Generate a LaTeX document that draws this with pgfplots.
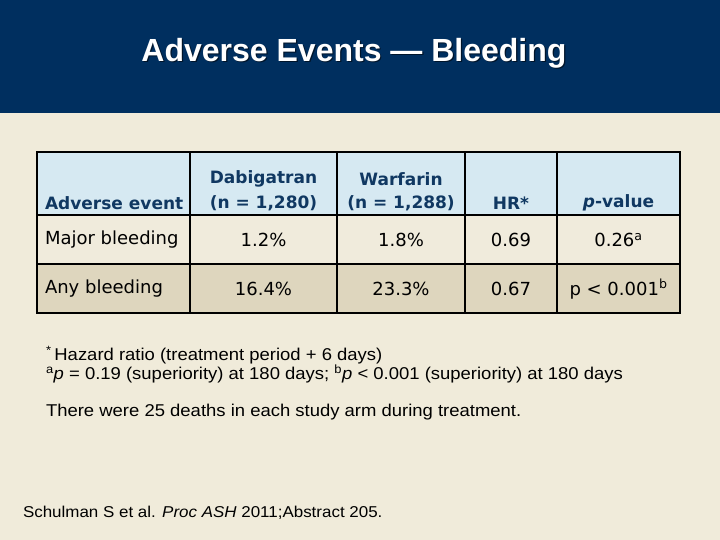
\documentclass[border=0pt]{standalone}
\usepackage{pgfplots}
\pgfplotsset{compat=1.18}
\usepackage{fontspec}
\setmainfont{DejaVu Sans}
\newfontfamily\tah[FakeStretch=1.08]{Liberation Sans}
\newfontfamily\tahb{Liberation Sans}
\definecolor{navy}{RGB}{0,47,95}
\definecolor{bg}{RGB}{240,235,218}
\definecolor{hdr}{RGB}{214,233,242}
\definecolor{rowa}{RGB}{240,235,220}
\definecolor{rowb}{RGB}{222,214,190}
\definecolor{htext}{RGB}{16,56,98}
\newcommand{\fs}[1]{\fontsize{#1bp}{#1bp}\selectfont}
\begin{document}
\begin{tikzpicture}
\begin{axis}[scale only axis, width=720bp, height=540bp,
  xmin=0, xmax=720, ymin=0, ymax=540, y dir=reverse,
  hide axis, clip=false]
% backgrounds
\fill[bg] (axis cs:0,0) rectangle (axis cs:720,540);
\fill[navy] (axis cs:0,0) rectangle (axis cs:720,113);
% title
\node[black!55!navy, font=\tahb\bfseries\fs{32}] at (axis cs:355.2,54.2) {Adverse Events — Bleeding};
\node[white, font=\tahb\bfseries\fs{32}] at (axis cs:354,53) {Adverse Events — Bleeding};
% table cells
\fill[hdr]  (axis cs:37,152) rectangle (axis cs:680,215);
\fill[rowa] (axis cs:37,215) rectangle (axis cs:680,264);
\fill[rowb] (axis cs:37,264) rectangle (axis cs:680,313);
% grid
\draw[black, line width=1.6bp] (axis cs:37,152) rectangle (axis cs:680,313);
\draw[black, line width=1.6bp] (axis cs:37,215) -- (axis cs:680,215);
\draw[black, line width=1.6bp] (axis cs:37,264) -- (axis cs:680,264);
\foreach \xx in {190,337,465,557} {
  \edef\tmp{\noexpand\draw[black, line width=1.6bp] (axis cs:\xx,152) -- (axis cs:\xx,313);}\tmp
}
% header text
\node[htext, anchor=west, font=\bfseries\fs{17}] at (axis cs:41.5,203) {Adverse event};
\node[htext, font=\bfseries\fs{17}] at (axis cs:263.5,179) {Dabigatran};
\node[htext, font=\bfseries\fs{17}] at (axis cs:263.5,203) {(n = 1,280)};
\node[htext, font=\bfseries\fs{17}] at (axis cs:401,179) {Warfarin};
\node[htext, font=\bfseries\fs{17}] at (axis cs:401,203) {(n = 1,288)};
\node[htext, font=\bfseries\fs{17}] at (axis cs:511,203) {HR*};
\node[htext, font=\bfseries\fs{17}] at (axis cs:618.5,203) {\textit{p}-value};
% row 1
\node[anchor=west, font=\fs{18}] at (axis cs:41.5,240) {Major bleeding};
\node[font=\fs{18}] at (axis cs:263.5,240) {1.2\%};
\node[font=\fs{18}] at (axis cs:401,240) {1.8\%};
\node[font=\fs{18}] at (axis cs:511,240) {0.69};
\node[font=\fs{18}] at (axis cs:618.5,240) {0.26\textsuperscript{a}};
% row 2
\node[anchor=west, font=\fs{18}] at (axis cs:41.5,289) {Any bleeding};
\node[font=\fs{18}] at (axis cs:263.5,289) {16.4\%};
\node[font=\fs{18}] at (axis cs:401,289) {23.3\%};
\node[font=\fs{18}] at (axis cs:511,289) {0.67};
\node[font=\fs{18}] at (axis cs:618.5,289) {p < 0.001\textsuperscript{b}};
% footnotes
\node[anchor=west, font=\tah\fs{17.1}] at (axis cs:42.5,355) {\textsuperscript{*}\,Hazard ratio (treatment period + 6 days)};
\node[anchor=west, font=\tah\fs{17.1}] at (axis cs:42.5,374) {\textsuperscript{a}\textit{p} = 0.19 (superiority) at 180 days; \textsuperscript{b}\textit{p} < 0.001 (superiority) at 180 days};
\node[anchor=west, font=\tah\fs{17.1}] at (axis cs:42.5,412) {There were 25 deaths in each study arm during treatment.};
\node[anchor=west, font=\tah\fs{15.7}] at (axis cs:19.5,513) {Schulman S et al. \textit{Proc ASH} 2011;Abstract 205.};
\end{axis}
\end{tikzpicture}
\end{document}
